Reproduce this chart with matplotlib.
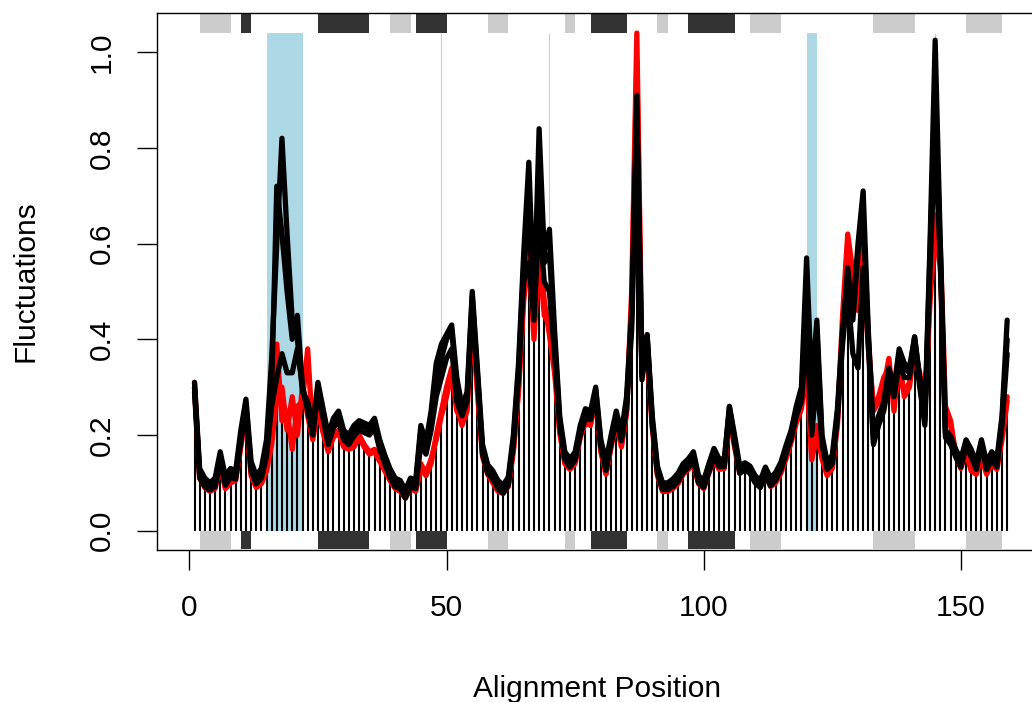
import numpy as np
import matplotlib
matplotlib.use("Agg")
import matplotlib.pyplot as plt
from matplotlib.patches import Rectangle

# per-position fluctuation values (positions 1..159)
bars = [0.29, 0.11, 0.09, 0.082, 0.088, 0.138, 0.088, 0.10, 0.105, 0.175,
        0.245, 0.115, 0.09, 0.098, 0.125, 0.18, 0.28, 0.23, 0.21, 0.17,
        0.20, 0.27, 0.24, 0.19, 0.25, 0.205, 0.165, 0.195, 0.205, 0.175,
        0.17, 0.175, 0.195, 0.175, 0.16, 0.165, 0.145, 0.125, 0.105, 0.088,
        0.082, 0.068, 0.088, 0.082, 0.13, 0.115, 0.14, 0.19, 0.24, 0.28,
        0.33, 0.25, 0.22, 0.25, 0.44, 0.29, 0.155, 0.118, 0.1, 0.082,
        0.078, 0.092, 0.165, 0.29, 0.48, 0.55, 0.40, 0.58, 0.45, 0.41,
        0.33, 0.205, 0.14, 0.128, 0.14, 0.195, 0.225, 0.22, 0.275, 0.165,
        0.118, 0.175, 0.225, 0.175, 0.245, 0.42, 0.84, 0.315, 0.38, 0.215,
        0.115, 0.082, 0.082, 0.088, 0.098, 0.118, 0.128, 0.138, 0.098, 0.088,
        0.12, 0.148, 0.128, 0.13, 0.235, 0.175, 0.12, 0.127, 0.12, 0.1,
        0.09, 0.117, 0.092, 0.1, 0.12, 0.15, 0.185, 0.225, 0.255, 0.33,
        0.148, 0.20, 0.15, 0.115, 0.13, 0.22, 0.39, 0.50, 0.37, 0.34,
        0.55, 0.38, 0.18, 0.22, 0.25, 0.31, 0.25, 0.33, 0.28, 0.30,
        0.37, 0.30, 0.22, 0.48, 0.62, 0.55, 0.195, 0.18, 0.154, 0.13,
        0.165, 0.125, 0.118, 0.155, 0.118, 0.14, 0.128, 0.19, 0.27]

red_a = [0.31, 0.115, 0.095, 0.085, 0.09, 0.14, 0.09, 0.105, 0.11, 0.18,
         0.25, 0.12, 0.095, 0.10, 0.13, 0.20, 0.39, 0.23, 0.25, 0.17,
         0.26, 0.27, 0.38, 0.20, 0.26, 0.21, 0.17, 0.20, 0.21, 0.18,
         0.175, 0.18, 0.20, 0.18, 0.165, 0.17, 0.15, 0.13, 0.11, 0.09,
         0.085, 0.07, 0.09, 0.085, 0.14, 0.12, 0.15, 0.19, 0.24, 0.28,
         0.33, 0.25, 0.23, 0.26, 0.45, 0.30, 0.16, 0.12, 0.105, 0.085,
         0.08, 0.095, 0.17, 0.30, 0.50, 0.55, 0.44, 0.62, 0.48, 0.41,
         0.33, 0.21, 0.145, 0.13, 0.145, 0.20, 0.23, 0.225, 0.28, 0.17,
         0.12, 0.18, 0.23, 0.18, 0.25, 0.50, 1.04, 0.343, 0.39, 0.22,
         0.12, 0.085, 0.085, 0.09, 0.10, 0.12, 0.13, 0.14, 0.10, 0.09,
         0.125, 0.15, 0.13, 0.135, 0.24, 0.18, 0.125, 0.135, 0.13, 0.11,
         0.095, 0.12, 0.095, 0.105, 0.125, 0.155, 0.19, 0.23, 0.26, 0.33,
         0.148, 0.20, 0.155, 0.12, 0.135, 0.23, 0.45, 0.62, 0.54, 0.50,
         0.60, 0.40, 0.25, 0.27, 0.30, 0.36, 0.25, 0.36, 0.28, 0.30,
         0.39, 0.32, 0.25, 0.50, 0.66, 0.60, 0.26, 0.23, 0.16, 0.135,
         0.17, 0.127, 0.12, 0.16, 0.12, 0.145, 0.13, 0.20, 0.28]

red_b = [0.30, 0.11, 0.09, 0.082, 0.088, 0.138, 0.088, 0.10, 0.105, 0.175,
         0.245, 0.115, 0.09, 0.098, 0.125, 0.18, 0.28, 0.30, 0.21, 0.28,
         0.20, 0.30, 0.24, 0.19, 0.25, 0.205, 0.165, 0.195, 0.205, 0.175,
         0.17, 0.175, 0.195, 0.175, 0.16, 0.165, 0.145, 0.125, 0.105, 0.088,
         0.082, 0.068, 0.088, 0.082, 0.13, 0.115, 0.14, 0.20, 0.25, 0.30,
         0.34, 0.26, 0.22, 0.25, 0.44, 0.29, 0.155, 0.118, 0.1, 0.082,
         0.078, 0.092, 0.165, 0.29, 0.48, 0.58, 0.40, 0.58, 0.45, 0.43,
         0.35, 0.205, 0.14, 0.128, 0.14, 0.195, 0.225, 0.22, 0.275, 0.165,
         0.118, 0.175, 0.225, 0.175, 0.245, 0.48, 0.98, 0.34, 0.38, 0.215,
         0.115, 0.082, 0.082, 0.088, 0.098, 0.118, 0.128, 0.138, 0.098, 0.088,
         0.12, 0.148, 0.128, 0.13, 0.235, 0.175, 0.12, 0.13, 0.125, 0.105,
         0.092, 0.118, 0.092, 0.1, 0.12, 0.15, 0.185, 0.225, 0.255, 0.36,
         0.16, 0.22, 0.15, 0.115, 0.13, 0.22, 0.42, 0.60, 0.50, 0.46,
         0.56, 0.38, 0.26, 0.28, 0.32, 0.34, 0.27, 0.33, 0.29, 0.31,
         0.37, 0.33, 0.26, 0.48, 0.62, 0.55, 0.24, 0.22, 0.155, 0.13,
         0.165, 0.125, 0.118, 0.155, 0.118, 0.14, 0.128, 0.19, 0.27]

black_lo = [0.29, 0.11, 0.092, 0.085, 0.092, 0.145, 0.095, 0.112, 0.108, 0.185,
            0.255, 0.125, 0.098, 0.11, 0.155, 0.26, 0.32, 0.37, 0.33, 0.33,
            0.38, 0.30, 0.25, 0.20, 0.29, 0.235, 0.18, 0.215, 0.23, 0.19,
            0.18, 0.198, 0.21, 0.205, 0.20, 0.215, 0.17, 0.14, 0.112, 0.092,
            0.088, 0.068, 0.092, 0.088, 0.18, 0.16, 0.21, 0.28, 0.32, 0.36,
            0.38, 0.27, 0.24, 0.27, 0.47, 0.32, 0.16, 0.12, 0.108, 0.088,
            0.078, 0.095, 0.18, 0.32, 0.52, 0.56, 0.44, 0.66, 0.52, 0.50,
            0.37, 0.22, 0.148, 0.133, 0.148, 0.20, 0.235, 0.232, 0.28, 0.175,
            0.126, 0.182, 0.232, 0.188, 0.255, 0.42, 0.84, 0.315, 0.40, 0.222,
            0.12, 0.086, 0.086, 0.092, 0.103, 0.122, 0.132, 0.147, 0.10, 0.09,
            0.122, 0.155, 0.134, 0.134, 0.25, 0.182, 0.12, 0.127, 0.12, 0.10,
            0.09, 0.117, 0.094, 0.106, 0.127, 0.16, 0.192, 0.24, 0.27, 0.42,
            0.20, 0.32, 0.18, 0.128, 0.14, 0.235, 0.39, 0.50, 0.37, 0.34,
            0.55, 0.39, 0.18, 0.22, 0.25, 0.31, 0.28, 0.35, 0.32, 0.32,
            0.39, 0.30, 0.22, 0.55, 0.82, 0.56, 0.195, 0.18, 0.154, 0.133,
            0.175, 0.155, 0.128, 0.18, 0.128, 0.148, 0.133, 0.22, 0.37]

black_mid = [0.30, 0.12, 0.10, 0.092, 0.10, 0.155, 0.103, 0.12, 0.115, 0.196,
             0.266, 0.134, 0.106, 0.12, 0.17, 0.30, 0.72, 0.62, 0.50, 0.40,
             0.45, 0.30, 0.26, 0.21, 0.30, 0.245, 0.19, 0.225, 0.24, 0.20,
             0.19, 0.208, 0.22, 0.217, 0.21, 0.228, 0.18, 0.148, 0.12, 0.10,
             0.095, 0.075, 0.10, 0.095, 0.21, 0.175, 0.23, 0.31, 0.36, 0.40,
             0.42, 0.30, 0.25, 0.28, 0.49, 0.33, 0.17, 0.128, 0.115, 0.095,
             0.085, 0.102, 0.19, 0.336, 0.55, 0.66, 0.45, 0.76, 0.56, 0.58,
             0.40, 0.23, 0.155, 0.14, 0.155, 0.21, 0.245, 0.24, 0.294, 0.183,
             0.134, 0.19, 0.24, 0.196, 0.266, 0.44, 0.88, 0.322, 0.409, 0.23,
             0.127, 0.092, 0.092, 0.099, 0.11, 0.13, 0.14, 0.155, 0.106, 0.096,
             0.13, 0.162, 0.141, 0.141, 0.259, 0.19, 0.127, 0.134, 0.127, 0.106,
             0.096, 0.124, 0.10, 0.113, 0.134, 0.168, 0.20, 0.25, 0.28, 0.50,
             0.21, 0.42, 0.19, 0.134, 0.148, 0.245, 0.405, 0.55, 0.44, 0.58,
             0.66, 0.405, 0.19, 0.23, 0.26, 0.33, 0.29, 0.37, 0.34, 0.33,
             0.405, 0.315, 0.23, 0.58, 0.93, 0.58, 0.203, 0.189, 0.161, 0.14,
             0.182, 0.161, 0.134, 0.186, 0.134, 0.155, 0.14, 0.231, 0.40]

black_hi = [0.31, 0.13, 0.11, 0.10, 0.11, 0.165, 0.113, 0.13, 0.125, 0.21,
            0.275, 0.145, 0.115, 0.13, 0.19, 0.36, 0.60, 0.82, 0.62, 0.44,
            0.40, 0.29, 0.27, 0.22, 0.31, 0.255, 0.20, 0.235, 0.25, 0.21,
            0.20, 0.22, 0.23, 0.225, 0.22, 0.235, 0.19, 0.158, 0.13, 0.11,
            0.105, 0.085, 0.11, 0.105, 0.22, 0.185, 0.25, 0.35, 0.39, 0.41,
            0.43, 0.32, 0.26, 0.29, 0.50, 0.34, 0.18, 0.138, 0.125, 0.105,
            0.095, 0.112, 0.20, 0.35, 0.58, 0.77, 0.47, 0.84, 0.58, 0.63,
            0.42, 0.24, 0.165, 0.15, 0.165, 0.22, 0.255, 0.25, 0.30, 0.19,
            0.145, 0.20, 0.25, 0.205, 0.28, 0.46, 0.91, 0.33, 0.41, 0.24,
            0.135, 0.10, 0.10, 0.108, 0.12, 0.14, 0.15, 0.165, 0.115, 0.105,
            0.14, 0.172, 0.15, 0.15, 0.26, 0.20, 0.135, 0.142, 0.135, 0.115,
            0.105, 0.133, 0.11, 0.122, 0.143, 0.178, 0.21, 0.26, 0.30, 0.57,
            0.30, 0.44, 0.20, 0.143, 0.158, 0.255, 0.42, 0.53, 0.46, 0.60,
            0.71, 0.42, 0.20, 0.24, 0.27, 0.34, 0.30, 0.38, 0.35, 0.34,
            0.405, 0.32, 0.24, 0.60, 1.025, 0.60, 0.21, 0.198, 0.17, 0.15,
            0.19, 0.17, 0.143, 0.19, 0.143, 0.165, 0.15, 0.24, 0.44]

# secondary structure (start, end)
helix = [(10, 12), (25, 35), (44, 50), (78, 85), (97, 106)]
strand = [(2, 8), (39, 43), (58, 62), (73, 75), (91, 93), (109, 115),
          (133, 141), (151, 158)]
# highlighted regions
spans = [(15, 22), (120, 122)]
marks = [49, 70, 145]

plt.rcParams["font.family"] = ["Liberation Sans", "DejaVu Sans"]

W, H = 1032, 702
fig = plt.figure(figsize=(W / 100, H / 100), dpi=100)
ax = fig.add_axes([156.7 / W, 1 - 550 / H, (1037 - 156.7) / W, (550 - 12.7) / H])
ax.set_xlim(-6.35, 164.8)
ax.set_ylim(-0.0403, 1.0825)

top_lo, top_hi = 1.0408, 1.0798
for s, e in spans:
    ax.add_patch(Rectangle((s, 0), e - s, top_lo, facecolor="lightblue",
                           edgecolor="none", zorder=1))
ax.vlines(marks, 0, top_lo, color="lightblue", lw=0.8, zorder=1)

for blocks, col in [(helix, "#333333"), (strand, "#cccccc")]:
    for s, e in blocks:
        ax.add_patch(Rectangle((s, top_lo), e - s, top_hi - top_lo,
                               facecolor=col, edgecolor="none", zorder=2))
        ax.add_patch(Rectangle((s, -0.0389), e - s, 0.0389,
                               facecolor=col, edgecolor="none", zorder=2))

pos = np.arange(1, len(bars) + 1)
ax.vlines(pos, 0, bars, color="black", lw=1.5, zorder=3)

for series in [red_a, red_b]:
    ax.plot(pos, series, color="red", lw=3.8, solid_joinstyle="round",
            solid_capstyle="round", zorder=4)
for series in [black_lo, black_mid, black_hi]:
    ax.plot(pos, series, color="black", lw=3.8, solid_joinstyle="round",
            solid_capstyle="round", zorder=5)

for sp in ["left", "top", "bottom"]:
    ax.spines[sp].set_linewidth(1.0)
ax.spines["right"].set_visible(False)

ax.set_xticks([0, 50, 100, 150])
ax.set_yticks([0, 0.2, 0.4, 0.6, 0.8, 1.0])
ax.set_yticklabels(["0.0", "0.2", "0.4", "0.6", "0.8", "1.0"])
ax.tick_params(direction="out", length=14.4, width=1.0, labelsize=21.5)
ax.tick_params(axis="x", pad=17)
ax.tick_params(axis="y", pad=15, labelrotation=90)
for lab in ax.get_yticklabels():
    lab.set_va("center")

ax.set_xlabel("Alignment Position", fontsize=21.5)
ax.xaxis.set_label_coords(0.5, -0.233)
ax.set_ylabel("Fluctuations", fontsize=21.5)
ax.yaxis.set_label_coords(-0.133, 0.5)

fig.savefig("out.png", dpi=100)
